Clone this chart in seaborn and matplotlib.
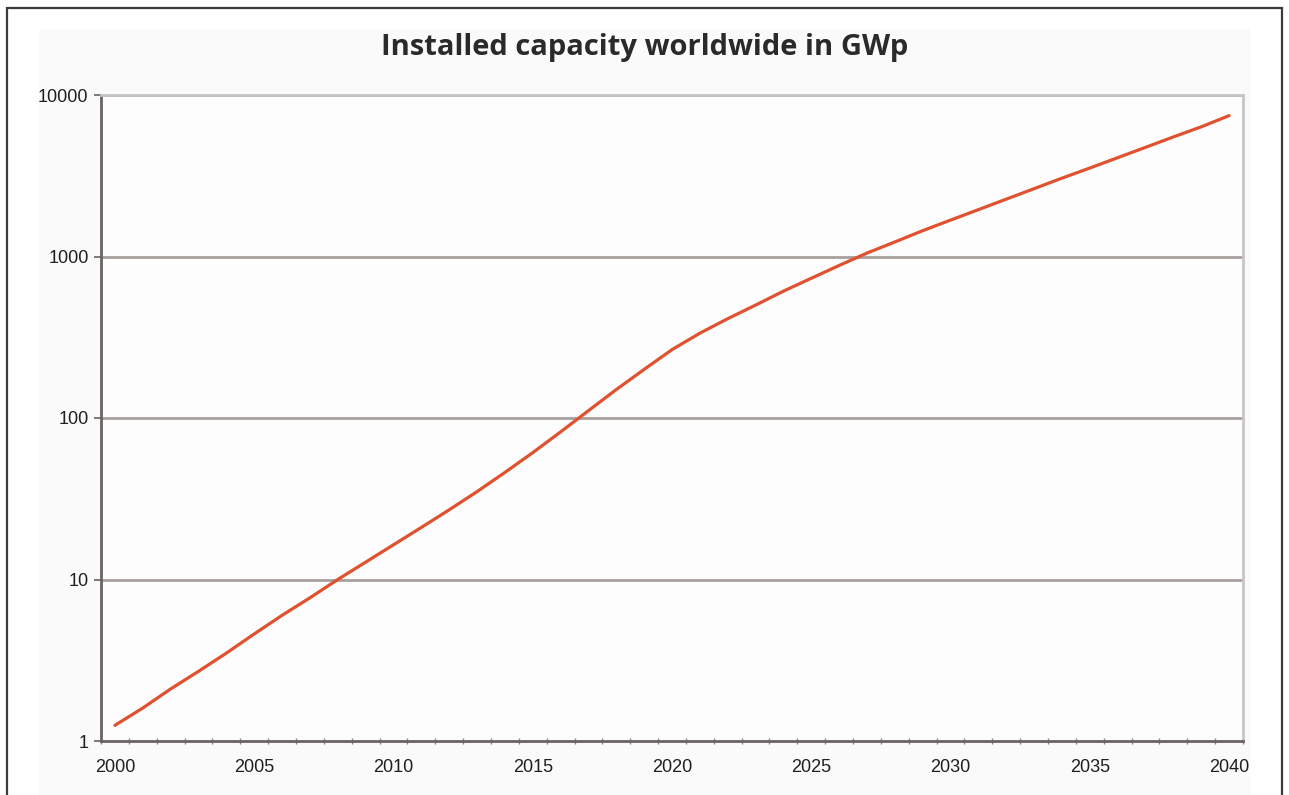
import matplotlib
matplotlib.use("Agg")
import matplotlib.pyplot as plt
import matplotlib.patches as mpatches
from matplotlib.ticker import FixedLocator, FixedFormatter, NullFormatter
import numpy as np
import pandas as pd
import seaborn as sns

# Installed PV capacity worldwide, GWp (log scale)
years = list(range(2000, 2041))
capacity_gwp = [
    1.25, 1.6, 2.1, 2.7, 3.5, 4.6, 6.0, 7.7, 10, 12.8,
    16.4, 21, 27, 35, 46, 61, 82, 111, 150, 200,
    265, 335, 412, 500, 610, 733, 880, 1050, 1230, 1445,
    1680, 1950, 2265, 2630, 3055, 3530, 4090, 4740, 5500, 6350,
    7450,
]
x_tick_years = [2000, 2005, 2010, 2015, 2020, 2025, 2030, 2035, 2040]
y_ticks = [1, 10, 100, 1000, 10000]
y_tick_labels = ["1", "10", "100", "1000", "10000"]
title = "Installed capacity worldwide in GWp"

df = pd.DataFrame({"year": years, "capacity": capacity_gwp})

sns.set_theme(style="white")
plt.rcParams["font.family"] = ["Liberation Sans", "DejaVu Sans"]

W, H = 1289, 795
fig = plt.figure(figsize=(W / 100, H / 100), dpi=100)
fig.patch.set_facecolor("white")

# faint chart-area panel and outer frame (behind the axes)
fig.patches.append(mpatches.Rectangle((39 / W, 0.0), (1250 - 39) / W, 1 - 29 / H,
                                      transform=fig.transFigure, facecolor="#fafafa",
                                      edgecolor="none", zorder=-2))
fig.patches.append(mpatches.Rectangle((7 / W, -0.05), (1282 - 7) / W, 1.05 - 8 / H,
                                      transform=fig.transFigure, facecolor="none",
                                      edgecolor="#3a3a3a", linewidth=1.6, zorder=-1))

ax = fig.add_axes([101 / W, 1 - 741 / H, (1243 - 101) / W, (741 - 95) / H])
ax.set_zorder(1)
ax.set_facecolor("#fdfdfd")

sns.lineplot(data=df, x="year", y="capacity", ax=ax, color="#e0522f",
             linewidth=2.3, zorder=3)

ax.set_yscale("log")
ax.set_ylim(1, 10000)
ax.set_xlim(years[0] - 0.5, years[-1] + 0.5)

ax.yaxis.set_major_locator(FixedLocator(y_ticks))
ax.yaxis.set_major_formatter(FixedFormatter(y_tick_labels))
ax.yaxis.set_minor_locator(FixedLocator([]))
ax.yaxis.set_minor_formatter(NullFormatter())

ax.xaxis.set_major_locator(FixedLocator(x_tick_years))
ax.xaxis.set_major_formatter(FixedFormatter([str(y) for y in x_tick_years]))
ax.xaxis.set_minor_locator(FixedLocator([y - 0.5 for y in years] + [years[-1] + 0.5]))

ax.tick_params(axis="x", which="major", length=0, pad=13, labelsize=13, labelcolor="#1f1f1f")
ax.tick_params(axis="x", which="minor", length=5, width=1, color="#8a8080",
               direction="inout", bottom=True)
ax.tick_params(axis="y", which="major", length=5, width=1.2, color="#6b6262",
               direction="out", pad=4, labelsize=13, labelcolor="#1f1f1f", left=True)

ax.grid(False)
for yv in y_ticks[1:]:
    ax.axhline(yv, color="#a89e9e", linewidth=2.0, zorder=1)

for side in ("left", "bottom"):
    ax.spines[side].set_color("#6b6262")
    ax.spines[side].set_linewidth(2.0)
for side in ("top", "right"):
    ax.spines[side].set_color("#c8c4c4")
    ax.spines[side].set_linewidth(2.0)

ax.set_xlabel("")
ax.set_ylabel("")

fig.text(645 / W, 1 - 47 / H, title, ha="center", va="center",
         fontsize=21, fontweight="bold", color="#2a2a2a",
         family=["Open Sans", "DejaVu Sans"])

fig.savefig("out.png", dpi=100)
